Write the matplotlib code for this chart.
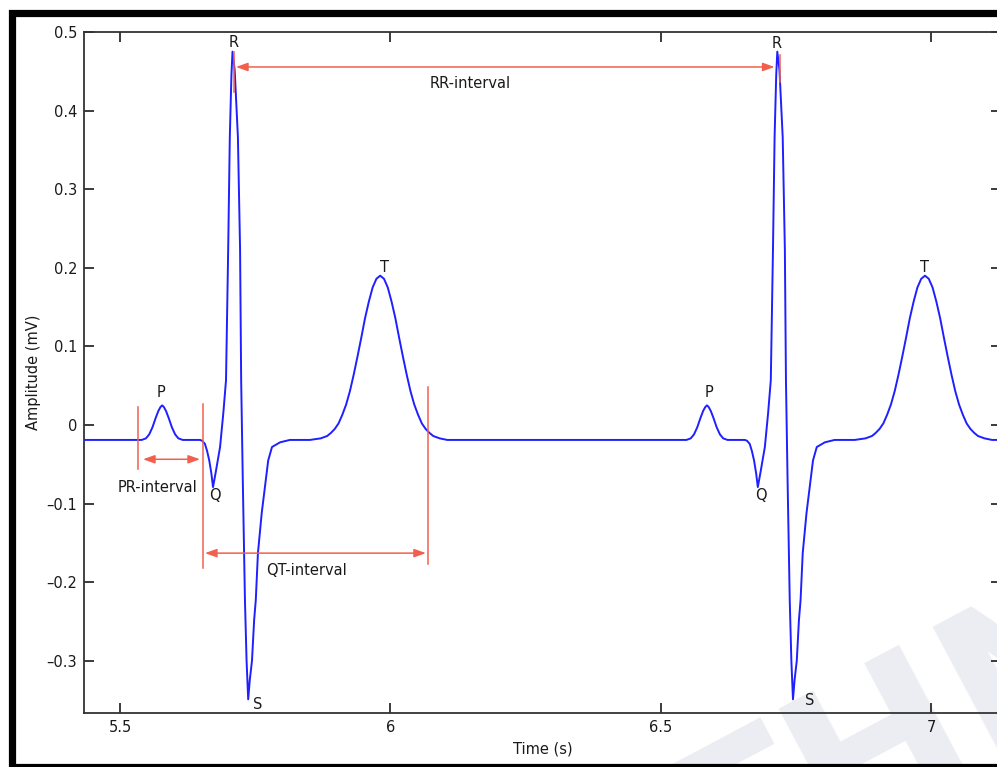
import matplotlib
matplotlib.use("Agg")
import matplotlib.pyplot as plt
from matplotlib.patches import Rectangle

plt.rcParams['font.family'] = ['DejaVu Sans']

# --- ECG trace (time in s, amplitude in mV) ---
time_s = [
    # beat 1
    5.433, 5.533, 5.540, 5.548, 5.554, 5.560, 5.566, 5.571, 5.575, 5.578,
    5.581, 5.585, 5.590, 5.596, 5.602, 5.608, 5.616, 5.648, 5.652, 5.657,
    5.661, 5.665, 5.669, 5.672, 5.677, 5.685, 5.691, 5.696, 5.700, 5.703,
    5.706, 5.708, 5.712, 5.718, 5.722, 5.724, 5.727, 5.731, 5.734, 5.737,
    5.740, 5.744, 5.748, 5.751, 5.755, 5.762, 5.768, 5.774, 5.781, 5.796,
    5.814, 5.851, 5.871, 5.883, 5.890, 5.897, 5.904, 5.911, 5.918, 5.925,
    5.932, 5.939, 5.946, 5.953, 5.960, 5.967, 5.974, 5.981, 5.988, 5.995,
    6.002, 6.009, 6.016, 6.023, 6.030, 6.037, 6.044, 6.051, 6.058, 6.065,
    6.072, 6.079, 6.091, 6.105,
    # beat 2
    6.540, 6.547, 6.555, 6.561, 6.567, 6.573, 6.578, 6.582, 6.585, 6.588,
    6.592, 6.597, 6.603, 6.609, 6.615, 6.623, 6.655, 6.659, 6.664, 6.668,
    6.672, 6.676, 6.679, 6.684, 6.692, 6.698, 6.703, 6.707, 6.710, 6.713,
    6.715, 6.719, 6.725, 6.729, 6.731, 6.734, 6.738, 6.741, 6.744, 6.747,
    6.751, 6.755, 6.758, 6.762, 6.769, 6.775, 6.781, 6.788, 6.803, 6.821,
    6.858, 6.878, 6.890, 6.897, 6.904, 6.911, 6.918, 6.925, 6.932, 6.939,
    6.946, 6.953, 6.960, 6.967, 6.974, 6.981, 6.988, 6.995, 7.002, 7.009,
    7.016, 7.023, 7.030, 7.037, 7.044, 7.051, 7.058, 7.065, 7.072, 7.079,
    7.086, 7.098, 7.112, 7.135,
]
amp_mv = [
    # beat 1
    -0.019, -0.019, -0.019, -0.017, -0.012, -0.003, 0.009, 0.018, 0.023, 0.025,
    0.023, 0.018, 0.009, -0.003, -0.012, -0.017, -0.019, -0.019, -0.020, -0.024,
    -0.033, -0.045, -0.062, -0.079, -0.060, -0.028, 0.015, 0.057, 0.223, 0.366,
    0.445, 0.475, 0.452, 0.366, 0.223, 0.057, -0.070, -0.223, -0.300, -0.349,
    -0.324, -0.300, -0.248, -0.223, -0.163, -0.112, -0.079, -0.045, -0.028, -0.022,
    -0.019, -0.019, -0.017, -0.014, -0.010, -0.005, 0.002, 0.013, 0.026, 0.043,
    0.064, 0.087, 0.111, 0.136, 0.157, 0.175, 0.186, 0.190, 0.186, 0.175,
    0.157, 0.136, 0.111, 0.087, 0.064, 0.043, 0.026, 0.013, 0.002, -0.005,
    -0.010, -0.014, -0.017, -0.019,
    # beat 2
    -0.019, -0.019, -0.017, -0.012, -0.003, 0.009, 0.018, 0.023, 0.025, 0.023,
    0.018, 0.009, -0.003, -0.012, -0.017, -0.019, -0.019, -0.020, -0.024, -0.033,
    -0.045, -0.062, -0.079, -0.060, -0.028, 0.015, 0.057, 0.223, 0.366, 0.445,
    0.475, 0.452, 0.366, 0.223, 0.057, -0.070, -0.223, -0.300, -0.349, -0.324,
    -0.300, -0.248, -0.223, -0.163, -0.112, -0.079, -0.045, -0.028, -0.022, -0.019,
    -0.019, -0.017, -0.014, -0.010, -0.005, 0.002, 0.013, 0.026, 0.043, 0.064,
    0.087, 0.111, 0.136, 0.157, 0.175, 0.186, 0.190, 0.186, 0.175, 0.157,
    0.136, 0.111, 0.087, 0.064, 0.043, 0.026, 0.013, 0.002, -0.005, -0.010,
    -0.014, -0.017, -0.019, -0.019,
]

# wave labels
wave_names = ['P', 'Q', 'R', 'S', 'T', 'P', 'Q', 'R', 'S', 'T']
wave_t = [5.576, 5.676, 5.711, 5.755, 5.989, 6.589, 6.685, 6.714, 6.775, 6.988]
wave_v = [0.041, -0.090, 0.487, -0.355, 0.201, 0.041, -0.090, 0.486, -0.350, 0.201]

# interval arrows
interval_names = ['PR-interval', 'QT-interval', 'RR-interval']
interval_start = [5.5425, 5.657, 5.7144]
interval_end = [5.648, 6.0656, 6.710]
interval_level = [-0.0436, -0.163, 0.4555]
interval_label_t = [5.569, 5.845, 6.147]
interval_label_v = [-0.079, -0.1845, 0.434]

# vertical guide lines (time, bottom, top)
guide_t = [5.5327, 5.6529, 6.0699, 5.7107, 6.720]
guide_lo = [-0.0564, -0.182, -0.1768, 0.4237, 0.4364]
guide_hi = [0.0233, 0.0267, 0.0487, 0.4746, 0.4707]

red = '#f2604d'
blue = '#1f1fff'
txt = '#1a1a1a'

fig = plt.figure(figsize=(9.97, 7.67), dpi=100)
ax = fig.add_axes([84 / 997, 54 / 767, 917 / 997, 681 / 767])
ax.patch.set_alpha(0)

ax.plot(time_s, amp_mv, color=blue, lw=1.4, zorder=3)

for t, lo, hi in zip(guide_t, guide_lo, guide_hi):
    ax.plot([t, t], [lo, hi], color=red, lw=1.1, zorder=4)

for s, e, lev in zip(interval_start, interval_end, interval_level):
    ax.annotate('', xy=(e, lev), xytext=(s, lev),
                arrowprops=dict(arrowstyle='<|-|>,head_length=0.7,head_width=0.25',
                                color=red, lw=1.1, shrinkA=0, shrinkB=0),
                zorder=4)

for name, t, v in zip(interval_names, interval_label_t, interval_label_v):
    ax.text(t, v, name, ha='center', va='center', fontsize=10.5, color=txt)

for name, t, v in zip(wave_names, wave_t, wave_v):
    ax.text(t, v, name, ha='center', va='center', fontsize=10.5, color=txt)

ax.set_xlim(5.4335, 7.1285)
ax.set_ylim(-0.3664, 0.5)
ax.set_xticks([5.5, 6, 6.5, 7])
ax.set_xticklabels(['5.5', '6', '6.5', '7'])
ax.set_yticks([-0.3, -0.2, -0.1, 0, 0.1, 0.2, 0.3, 0.4, 0.5])
ax.set_yticklabels(['\u20130.3', '\u20130.2', '\u20130.1', '0', '0.1', '0.2', '0.3', '0.4', '0.5'])
ax.tick_params(direction='in', top=True, right=True, length=7, width=1.2,
               labelsize=10.5, colors=txt, pad=5)
for sp in ax.spines.values():
    sp.set_linewidth(1.3)
    sp.set_color('#333333')
ax.set_xlabel('Time (s)', fontsize=10.5, labelpad=5, color=txt)
ax.set_ylabel('Amplitude (mV)', fontsize=10.5, labelpad=4, color=txt)

# faint watermark in the lower right
fig.text(0.90, 0.02, 'THN', fontsize=150, color='#ececf3', rotation=28,
         ha='center', va='center', fontweight='bold', zorder=-1)

# thick black frame around the screenshot
fig.add_artist(Rectangle((11.7 / 997, 0.0), 1.2, 1 - 13 / 767,
                         transform=fig.transFigure, fill=False,
                         edgecolor='black', lw=5.2, zorder=10))

fig.savefig('out.png', dpi=100)
